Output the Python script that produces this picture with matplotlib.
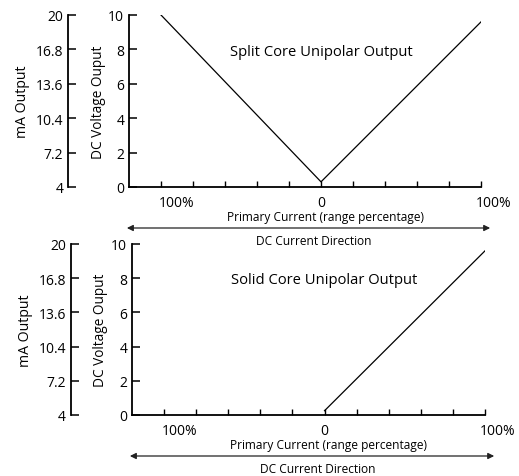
import numpy as np
import matplotlib
matplotlib.use("Agg")
import matplotlib.pyplot as plt
from matplotlib import transforms

plt.rcParams['font.family'] = ['Open Sans', 'DejaVu Sans']

# Data
split_x = [-100, 0, 100]
split_v = [10, 0.3, 9.6]
solid_x = [0, 100]
solid_v = [0.25, 9.6]

x_ticks = np.arange(-100, 101, 20)
v_ticks = [0, 2, 4, 6, 8, 10]
ma_ticks = [4, 7.2, 10.4, 13.6, 16.8, 20]
ma_labels = ["4", "7.2", "10.4", "13.6", "16.8", "20"]

titles = ["Split Core Unipolar Output", "Solid Core Unipolar Output"]

W, H = 519, 477
fig = plt.figure(figsize=(W / 100, H / 100), dpi=100)


def px_axes(left, top, right, bottom):
    return fig.add_axes([left / W, 1 - bottom / H, (right - left) / W, (bottom - top) / H])


def panel(ax, xs, vs, title):
    ax.patch.set_visible(False)
    ax.plot(xs, vs, color='black', lw=0.9)
    ax.set_xlim(-120, 100)
    ax.set_ylim(0, 10)
    for s in ['top', 'right']:
        ax.spines[s].set_visible(False)
    for s in ['left', 'bottom']:
        ax.spines[s].set_linewidth(1.3)
    ax.set_xticks(x_ticks)
    ax.set_xticklabels([])
    ax.tick_params(axis='x', direction='in', length=4, width=1)
    ax.set_yticks(v_ticks)
    ax.tick_params(axis='y', direction='in', length=6, width=1.1, labelsize=10, pad=3.5)

    # mA scale on a second spine
    sec = ax.secondary_yaxis(-0.173, functions=(lambda v: 4 + 1.6 * v,
                                                  lambda m: (m - 4) / 1.6))
    sec.set_yticks(ma_ticks)
    sec.set_yticklabels(ma_labels)
    sec.spines['left'].set_linewidth(1.3)
    sec.tick_params(axis='y', direction='in', length=6, width=1.1, labelsize=10, pad=3.5)

    ax.text(-0.088, 0.5, 'DC Voltage Ouput', transform=ax.transAxes, rotation=90,
            ha='center', va='center', fontsize=9.8)
    ax.text(-0.302, 0.5, 'mA Output', transform=ax.transAxes, rotation=90,
            ha='center', va='center', fontsize=10.2)
    ax.text(0, 7.9, title, ha='center', va='center', fontsize=10.6)

    # x labels below axis
    tr = transforms.blended_transform_factory(ax.transData, ax.transAxes)
    for xv, lab, dx in [(-100, '100%', 11), (0, '0', 0), (100, '100%', 9)]:
        ax.annotate(lab, xy=(xv, 0), xycoords=tr, xytext=(dx, -11),
                    textcoords='offset points', ha='center', va='center', fontsize=10)
    ax.annotate('Primary Current (range percentage)', xy=(0, 0), xycoords=tr,
                xytext=(3, -21.5), textcoords='offset points', ha='center', va='center',
                fontsize=8.6)
    # current direction arrow
    ay = -41 / (ax.get_position().height * H)
    ax.annotate('', xy=(-0.006, ay), xycoords='axes fraction',
                xytext=(1.026, ay), textcoords='axes fraction',
                arrowprops=dict(arrowstyle='<|-|>', color='#222222', lw=0.9,
                                mutation_scale=9, shrinkA=0, shrinkB=0))
    ax.annotate('DC Current Direction', xy=(0, 0), xycoords=tr,
                xytext=(-5, -38.5), textcoords='offset points', ha='center', va='center',
                fontsize=8.6)
    return ax


ax1 = px_axes(129, 16, 481, 188)
panel(ax1, split_x, split_v, titles[0])
ax2 = px_axes(132, 245, 485, 416)
panel(ax2, solid_x, solid_v, titles[1])

fig.savefig('out.png', dpi=100)
